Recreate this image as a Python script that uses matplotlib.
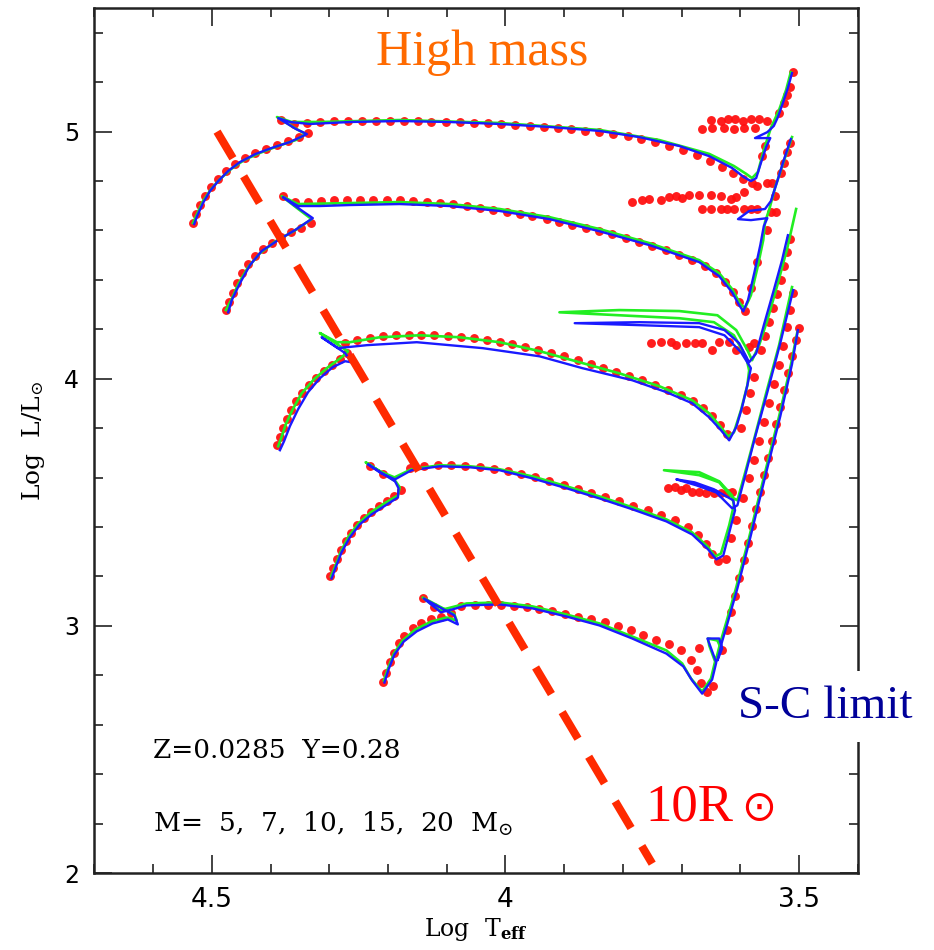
import numpy as np
import matplotlib
matplotlib.use("Agg")
import matplotlib.pyplot as plt
from matplotlib.ticker import MultipleLocator, FixedLocator

plt.rcParams['mathtext.fontset'] = 'dejavuserif'

# ---- red dots (one model set), green and blue lines (two other model sets) ----
# 20 Msun
dots_T_20 = [4.532, 4.527, 4.520, 4.512, 4.501, 4.489, 4.476, 4.461, 4.444, 4.427, 4.408, 4.389, 4.370, 4.352, 4.336,
             4.382, 4.360, 4.338, 4.316, 4.292, 4.268, 4.245, 4.221, 4.197, 4.173, 4.149, 4.126, 4.102, 4.078, 4.054,
             4.030, 4.007, 3.983, 3.959, 3.935, 3.911, 3.888, 3.864, 3.840, 3.816, 3.792, 3.769, 3.745, 3.721, 3.697,
             3.673, 3.651, 3.631, 3.612, 3.595, 3.580,
             3.650, 3.633, 3.621, 3.609, 3.595, 3.582, 3.568, 3.554,
             3.665, 3.648, 3.628, 3.611, 3.594, 3.575,
             3.571, 3.554, 3.546, 3.563, 3.558, 3.534, 3.526, 3.520, 3.515, 3.510]
dots_L_20 = [4.630, 4.666, 4.703, 4.739, 4.776, 4.808, 4.841, 4.869, 4.893, 4.913, 4.930, 4.946, 4.962, 4.978, 4.994,
             5.047, 5.031, 5.035, 5.039, 5.043, 5.043, 5.043, 5.043, 5.043, 5.043, 5.043, 5.039, 5.039, 5.039, 5.035,
             5.035, 5.031, 5.027, 5.023, 5.019, 5.015, 5.011, 5.003, 4.998, 4.990, 4.982, 4.970, 4.958, 4.942, 4.926,
             4.905, 4.881, 4.857, 4.832, 4.808, 4.792,
             5.047, 5.043, 5.051, 5.051, 5.043, 5.051, 5.051, 5.043,
             5.011, 5.015, 5.015, 5.011, 5.015, 5.015,
             4.780, 4.792, 4.792, 4.901, 4.942, 5.075, 5.116, 5.148, 5.181, 5.241]
green_T_20 = [4.532, 4.525, 4.515, 4.501, 4.486, 4.467, 4.445, 4.418, 4.387, 4.357, 4.340, 4.359, 4.389, 4.364,
              4.316, 4.180, 4.010, 3.840, 3.738, 3.653, 3.611, 3.590, 3.580, 3.570, 3.560, 3.548, 3.534, 3.522, 3.514]
green_L_20 = [4.630, 4.667, 4.719, 4.768, 4.808, 4.849, 4.885, 4.914, 4.942, 4.966, 4.990, 5.015, 5.059, 5.039,
              5.039, 5.047, 5.035, 5.007, 4.966, 4.910, 4.861, 4.829, 4.812, 4.837, 4.926, 5.015, 5.088, 5.169, 5.241]
blue_T_20 = [4.530, 4.525, 4.515, 4.503, 4.489, 4.472, 4.452, 4.426, 4.398, 4.367, 4.338, 4.357, 4.387, 4.367,
             4.333, 4.265, 4.180, 4.095, 4.010, 3.925, 3.840, 3.772, 3.704, 3.653, 3.614, 3.594, 3.582, 3.573,
             3.565, 3.556, 3.549, 3.575, 3.554, 3.543, 3.536, 3.527, 3.519, 3.512]
blue_L_20 = [4.626, 4.658, 4.711, 4.760, 4.800, 4.841, 4.877, 4.909, 4.934, 4.958, 4.990, 5.011, 5.055, 5.039,
             5.031, 5.039, 5.043, 5.039, 5.031, 5.019, 5.003, 4.978, 4.942, 4.901, 4.853, 4.816, 4.800, 4.812,
             4.873, 4.938, 4.974, 4.974, 4.998, 5.023, 5.059, 5.120, 5.177, 5.237]

# 15 Msun
dots_T_15 = [4.476, 4.471, 4.464, 4.457, 4.449, 4.438, 4.427, 4.413, 4.398, 4.382, 4.365, 4.348, 4.331,
             4.379, 4.359, 4.336, 4.314, 4.292, 4.270, 4.248, 4.226, 4.202, 4.180, 4.158, 4.134, 4.112, 4.090,
             4.066, 4.044, 4.022, 3.998, 3.976, 3.954, 3.930, 3.908, 3.886, 3.862, 3.840, 3.818, 3.794, 3.772,
             3.750, 3.726, 3.704, 3.682, 3.660, 3.641, 3.626, 3.612, 3.602, 3.592,
             3.582, 3.571, 3.554, 3.548, 3.541, 3.531, 3.526, 3.520, 3.515,
             3.784, 3.767, 3.755, 3.735, 3.721, 3.709, 3.699, 3.687, 3.670, 3.650, 3.633, 3.616, 3.607, 3.594,
             3.665, 3.650, 3.633, 3.623, 3.611, 3.594, 3.582, 3.572, 3.540]
dots_L_15 = [4.278, 4.310, 4.346, 4.387, 4.427, 4.464, 4.496, 4.525, 4.549, 4.573, 4.593, 4.610, 4.630,
             4.739, 4.715, 4.715, 4.719, 4.723, 4.723, 4.723, 4.723, 4.723, 4.723, 4.719, 4.715, 4.711, 4.707,
             4.699, 4.691, 4.683, 4.674, 4.666, 4.658, 4.646, 4.634, 4.622, 4.610, 4.597, 4.585, 4.569, 4.553,
             4.537, 4.521, 4.500, 4.480, 4.456, 4.427, 4.391, 4.350, 4.310, 4.273,
             4.367, 4.472, 4.602, 4.675, 4.739, 4.832, 4.873, 4.917, 4.954,
             4.715, 4.723, 4.727, 4.723, 4.735, 4.739, 4.731, 4.743, 4.743, 4.743, 4.739, 4.727, 4.735, 4.756,
             4.687, 4.687, 4.687, 4.687, 4.687, 4.687, 4.687, 4.687, 4.675]
green_T_15 = [4.476, 4.467, 4.455, 4.438, 4.418, 4.391, 4.360, 4.330, 4.355, 4.381, 4.353, 4.265, 4.180,
              4.095, 4.010, 3.925, 3.840, 3.755, 3.670, 3.636, 3.614, 3.600, 3.592, 3.582, 3.571, 3.561,
              3.558, 3.551, 3.541, 3.527, 3.512]
green_L_15 = [4.278, 4.318, 4.383, 4.452, 4.508, 4.557, 4.598, 4.646, 4.691, 4.739, 4.707, 4.711, 4.715,
              4.707, 4.687, 4.654, 4.606, 4.549, 4.480, 4.427, 4.363, 4.302, 4.286, 4.338, 4.448, 4.561,
              4.634, 4.683, 4.772, 4.873, 4.978]
blue_T_15 = [4.472, 4.466, 4.452, 4.435, 4.415, 4.387, 4.358, 4.328, 4.353, 4.379, 4.353, 4.316, 4.265,
             4.180, 4.095, 4.010, 3.925, 3.840, 3.755, 3.670, 3.636, 3.614, 3.602, 3.595, 3.587, 3.576,
             3.566, 3.560, 3.554, 3.582, 3.604, 3.585, 3.558, 3.548, 3.537, 3.526, 3.514]
blue_L_15 = [4.269, 4.318, 4.387, 4.460, 4.517, 4.561, 4.602, 4.650, 4.691, 4.735, 4.699, 4.699, 4.703,
             4.707, 4.699, 4.679, 4.646, 4.597, 4.541, 4.472, 4.415, 4.350, 4.298, 4.273, 4.318, 4.431,
             4.541, 4.618, 4.650, 4.642, 4.646, 4.679, 4.687, 4.719, 4.800, 4.885, 4.970]

# 10 Msun
dots_T_10 = [4.389, 4.384, 4.379, 4.372, 4.365, 4.357, 4.347, 4.335, 4.323, 4.309, 4.296, 4.282, 4.270,
             4.273, 4.253, 4.231, 4.209, 4.187, 4.165, 4.143, 4.121, 4.098, 4.076, 4.054, 4.032, 4.010, 3.988,
             3.966, 3.944, 3.922, 3.900, 3.877, 3.855, 3.833, 3.811, 3.789, 3.767, 3.745, 3.723, 3.701, 3.680,
             3.663, 3.648, 3.634, 3.622,
             3.599, 3.590, 3.583, 3.577, 3.565, 3.558, 3.551, 3.544, 3.537, 3.531, 3.525, 3.520, 3.515,
             3.752, 3.735, 3.718, 3.709, 3.692, 3.678, 3.665, 3.648, 3.636, 3.619, 3.607, 3.585, 3.577]
dots_L_10 = [3.731, 3.763, 3.800, 3.836, 3.873, 3.909, 3.941, 3.974, 4.002, 4.031, 4.055, 4.079, 4.104,
             4.144, 4.156, 4.164, 4.172, 4.176, 4.176, 4.176, 4.176, 4.172, 4.168, 4.164, 4.156, 4.148, 4.140,
             4.128, 4.116, 4.103, 4.091, 4.075, 4.059, 4.043, 4.027, 4.010, 3.994, 3.974, 3.953, 3.933, 3.909,
             3.881, 3.848, 3.812, 3.775,
             3.800, 3.873, 3.941, 4.006, 4.116, 4.172, 4.229, 4.286, 4.342, 4.399, 4.456, 4.512, 4.565,
             4.144, 4.148, 4.148, 4.136, 4.144, 4.144, 4.144, 4.116, 4.148, 4.148, 4.116, 4.128, 4.144]
green_T_10 = [4.387, 4.382, 4.374, 4.362, 4.347, 4.326, 4.302, 4.279, 4.268, 4.316, 4.287, 4.265, 4.214,
              4.146, 4.078, 4.010, 3.942, 3.874, 3.806, 3.738, 3.682, 3.653, 3.636, 3.621, 3.611, 3.599,
              3.588, 3.585, 3.590, 3.611, 3.645, 3.704, 3.806, 3.908, 3.806, 3.704, 3.639, 3.607, 3.588,
              3.580, 3.568, 3.554, 3.537, 3.520, 3.505]
green_L_10 = [3.727, 3.759, 3.816, 3.877, 3.941, 3.998, 4.047, 4.087, 4.111, 4.185, 4.148, 4.148, 4.168,
              4.176, 4.168, 4.148, 4.112, 4.067, 4.022, 3.970, 3.913, 3.860, 3.812, 3.767, 3.783, 3.872,
              3.974, 4.034, 4.087, 4.176, 4.229, 4.245, 4.257, 4.269, 4.278, 4.274, 4.257, 4.197, 4.116,
              4.075, 4.136, 4.237, 4.379, 4.529, 4.687]
blue_T_10 = [4.384, 4.377, 4.367, 4.353, 4.336, 4.316, 4.294, 4.273, 4.263, 4.273, 4.313, 4.285, 4.236,
             4.151, 4.039, 3.942, 3.869, 3.784, 3.726, 3.682, 3.653, 3.633, 3.619, 3.607, 3.597, 3.588,
             3.582, 3.599, 3.627, 3.670, 3.772, 3.882, 3.772, 3.670, 3.627, 3.602, 3.585, 3.573, 3.560,
             3.543, 3.529, 3.519]
blue_L_10 = [3.711, 3.747, 3.808, 3.877, 3.946, 4.002, 4.047, 4.071, 4.067, 4.104, 4.168, 4.124, 4.136,
             4.148, 4.124, 4.091, 4.043, 3.994, 3.946, 3.901, 3.844, 3.792, 3.751, 3.804, 3.885, 3.974,
             4.043, 4.108, 4.176, 4.209, 4.217, 4.225, 4.229, 4.225, 4.197, 4.144, 4.067, 4.103, 4.217,
             4.359, 4.480, 4.581]

# 7 Msun
dots_T_7 = [4.299, 4.294, 4.287, 4.280, 4.272, 4.263, 4.253, 4.241, 4.229, 4.216, 4.202, 4.189, 4.177,
            4.231, 4.209, 4.163, 4.139, 4.115, 4.092, 4.068, 4.044, 4.020, 3.996, 3.973, 3.949, 3.925, 3.901,
            3.877, 3.854, 3.830, 3.806, 3.782, 3.758, 3.735, 3.711, 3.689, 3.672, 3.658, 3.648, 3.638, 3.624,
            3.616, 3.607, 3.595, 3.585, 3.577, 3.568, 3.560, 3.551, 3.543, 3.534, 3.527, 3.520, 3.515, 3.510,
            3.724, 3.712, 3.701, 3.692, 3.682, 3.670, 3.658, 3.645, 3.633, 3.622, 3.614]
dots_L_7 = [3.200, 3.233, 3.269, 3.306, 3.342, 3.374, 3.407, 3.435, 3.460, 3.484, 3.504, 3.524, 3.549,
            3.646, 3.613, 3.638, 3.646, 3.650, 3.650, 3.646, 3.642, 3.634, 3.626, 3.613, 3.601, 3.585, 3.569,
            3.553, 3.536, 3.520, 3.504, 3.484, 3.468, 3.447, 3.427, 3.399, 3.366, 3.330, 3.293, 3.261, 3.269,
            3.354, 3.427, 3.516, 3.597, 3.670, 3.747, 3.824, 3.901, 3.978, 4.055, 4.132, 4.209, 4.278, 4.346,
            3.557, 3.561, 3.549, 3.557, 3.540, 3.540, 3.536, 3.536, 3.536, 3.536, 3.540]
green_T_7 = [4.297, 4.290, 4.280, 4.267, 4.250, 4.229, 4.206, 4.183, 4.180, 4.187, 4.238, 4.214, 4.189,
             4.160, 4.112, 4.061, 4.010, 3.954, 3.896, 3.840, 3.784, 3.726, 3.682, 3.656, 3.643, 3.633,
             3.619, 3.611, 3.614, 3.636, 3.670, 3.730, 3.670, 3.636, 3.614, 3.605, 3.593, 3.576, 3.556,
             3.534, 3.512]
green_L_7 = [3.200, 3.241, 3.302, 3.362, 3.415, 3.460, 3.496, 3.528, 3.561, 3.585, 3.662, 3.626, 3.601,
             3.634, 3.650, 3.646, 3.634, 3.605, 3.565, 3.524, 3.480, 3.431, 3.378, 3.322, 3.281, 3.293,
             3.407, 3.488, 3.528, 3.585, 3.622, 3.630, 3.610, 3.581, 3.520, 3.508, 3.610, 3.760, 3.942,
             4.136, 4.371]
blue_T_7 = [4.296, 4.289, 4.279, 4.265, 4.248, 4.228, 4.204, 4.183, 4.182, 4.188, 4.234, 4.212, 4.188,
            4.160, 4.112, 4.061, 4.010, 3.954, 3.896, 3.840, 3.784, 3.726, 3.682, 3.655, 3.641, 3.629,
            3.617, 3.609, 3.612, 3.645, 3.678, 3.709, 3.675, 3.641, 3.614, 3.605, 3.593, 3.575, 3.554,
            3.532, 3.510]
blue_L_7 = [3.192, 3.237, 3.298, 3.358, 3.411, 3.451, 3.488, 3.520, 3.557, 3.585, 3.654, 3.618, 3.593,
            3.630, 3.646, 3.642, 3.630, 3.597, 3.557, 3.516, 3.472, 3.423, 3.370, 3.310, 3.269, 3.285,
            3.395, 3.468, 3.508, 3.553, 3.581, 3.593, 3.569, 3.540, 3.476, 3.488, 3.597, 3.763, 3.946,
            4.144, 4.359]

# 5 Msun
dots_T_5 = [4.209, 4.204, 4.197, 4.190, 4.182, 4.172, 4.158, 4.143, 4.126, 4.109, 4.092, 4.141, 4.121,
            4.075, 4.052, 4.030, 4.008, 3.986, 3.964, 3.942, 3.920, 3.898, 3.876, 3.854, 3.831, 3.809, 3.787,
            3.765, 3.743, 3.721, 3.701, 3.684, 3.673, 3.667, 3.656, 3.646, 3.670, 3.631,
            3.622, 3.616, 3.609, 3.602, 3.594, 3.587, 3.580, 3.573, 3.566, 3.560, 3.553, 3.546, 3.539, 3.532,
            3.526, 3.519, 3.512, 3.505, 3.500]
dots_L_5 = [2.775, 2.811, 2.852, 2.892, 2.929, 2.961, 2.990, 3.010, 3.026, 3.038, 3.054, 3.111, 3.075,
            3.079, 3.083, 3.083, 3.083, 3.079, 3.075, 3.067, 3.059, 3.050, 3.038, 3.026, 3.014, 2.998, 2.982,
            2.965, 2.945, 2.925, 2.901, 2.864, 2.820, 2.767, 2.731, 2.755, 2.909, 2.901,
            2.982, 3.055, 3.123, 3.192, 3.265, 3.334, 3.403, 3.472, 3.540, 3.609, 3.678, 3.747, 3.816, 3.885,
            3.954, 4.022, 4.091, 4.156, 4.205]
green_T_5 = [4.207, 4.200, 4.190, 4.175, 4.153, 4.126, 4.100, 4.083, 4.087, 4.141, 4.112, 4.092, 4.066,
             4.010, 3.954, 3.896, 3.840, 3.784, 3.726, 3.699, 3.684, 3.665, 3.650, 3.643, 3.653, 3.655,
             3.639, 3.633, 3.641, 3.633, 3.624, 3.607, 3.585, 3.560, 3.534, 3.514, 3.503]
green_L_5 = [2.779, 2.828, 2.888, 2.941, 2.986, 3.018, 3.034, 3.022, 3.047, 3.115, 3.063, 3.075, 3.091,
             3.095, 3.079, 3.046, 3.010, 2.957, 2.901, 2.848, 2.787, 2.734, 2.787, 2.856, 2.921, 2.949,
             2.941, 2.909, 2.868, 2.941, 3.014, 3.156, 3.358, 3.601, 3.848, 4.055, 4.189]
blue_T_5 = [4.206, 4.199, 4.189, 4.173, 4.151, 4.124, 4.098, 4.081, 4.087, 4.139, 4.110, 4.090, 4.066,
            4.010, 3.954, 3.896, 3.840, 3.784, 3.726, 3.697, 3.682, 3.665, 3.648, 3.641, 3.651, 3.656,
            3.636, 3.631, 3.639, 3.631, 3.622, 3.605, 3.583, 3.558, 3.532, 3.512, 3.502]
blue_L_5 = [2.771, 2.824, 2.884, 2.937, 2.978, 3.010, 3.026, 3.006, 3.043, 3.111, 3.055, 3.067, 3.083,
            3.087, 3.071, 3.038, 3.002, 2.949, 2.888, 2.836, 2.779, 2.726, 2.783, 2.852, 2.917, 2.949,
            2.949, 2.909, 2.860, 2.937, 3.010, 3.152, 3.358, 3.601, 3.848, 4.059, 4.197]

# 10 Rsun radius line
r10_T = [4.491, 3.750]
r10_L = [5.000, 2.038]

dots = [(dots_T_20, dots_L_20), (dots_T_15, dots_L_15), (dots_T_10, dots_L_10),
        (dots_T_7, dots_L_7), (dots_T_5, dots_L_5)]
greens = [(green_T_20, green_L_20), (green_T_15, green_L_15), (green_T_10, green_L_10),
          (green_T_7, green_L_7), (green_T_5, green_L_5)]
blues = [(blue_T_20, blue_L_20), (blue_T_15, blue_L_15), (blue_T_10, blue_L_10),
         (blue_T_7, blue_L_7), (blue_T_5, blue_L_5)]

fig = plt.figure(figsize=(9.34, 9.5), dpi=100)
ax = fig.add_axes([0.101, 0.081, 0.8174, 0.9105])

for T, L in dots:
    ax.plot(T, L, 'o', color='#ff1010', markersize=6.4, markeredgewidth=0, alpha=0.95, zorder=2)
for T, L in greens:
    ax.plot(T, L, '-', color='#22ee22', lw=1.9, zorder=3, solid_joinstyle='round')
for T, L in blues:
    ax.plot(T, L, '-', color='#1a1aff', lw=1.7, zorder=4, solid_joinstyle='round')

lw_dash = 5.8
ax.plot(r10_T, r10_L, color='#ff2a00', lw=lw_dash, dashes=(22.3 / lw_dash, 15.1 / lw_dash),
        dash_capstyle='butt', zorder=5)

ax.set_xlim(4.7, 3.4)
ax.set_ylim(2.0, 5.5)
ax.xaxis.set_major_locator(FixedLocator([4.5, 4.0, 3.5]))
ax.xaxis.set_minor_locator(MultipleLocator(0.1))
ax.yaxis.set_major_locator(FixedLocator([2, 3, 4, 5]))
ax.yaxis.set_minor_locator(MultipleLocator(0.2))
ax.set_xticklabels(['4.5', '4', '3.5'], fontsize=19, family='DejaVu Sans')
ax.set_yticklabels(['2', '3', '4', '5'], fontsize=17, family='DejaVu Sans')
ax.tick_params(which='both', direction='in', top=True, right=True, width=1.2, color='#222222')
ax.tick_params(which='major', length=13)
ax.tick_params(which='minor', length=6.5)
ax.tick_params(axis='x', pad=10)
ax.tick_params(axis='y', pad=11)
for sp in ax.spines.values():
    sp.set_linewidth(1.8)
    sp.set_color('#222222')

ax.set_xlabel(r'Log  T$_{\mathbf{eff}}$', fontsize=17, family='DejaVu Serif', labelpad=2)
ax.set_ylabel(r'Log  L/L$_{\odot}$', fontsize=18, family='DejaVu Serif', labelpad=12)

ax.text(0.077, 0.1335, 'Z=0.0285  Y=0.28', transform=ax.transAxes, fontsize=19,
        family='DejaVu Serif', va='baseline')
ax.text(0.077, 0.0474, r'M=  5,  7,  10,  15,  20  M$_{\odot}$', transform=ax.transAxes,
        fontsize=19, family='DejaVu Serif', va='baseline')

fig.text(0.516, 0.9316, 'High mass', color='#ff6a00', fontsize=36, family='Liberation Serif',
         ha='center', va='baseline')
fig.text(0.790, 0.2442, 'S-C limit', color='#000099', fontsize=34, family='Liberation Serif',
         ha='left', va='baseline',
         bbox=dict(boxstyle='square,pad=0.3', facecolor='white', edgecolor='none'))
fig.text(0.6906, 0.1368, '10R', color='#ff0000', fontsize=38, family='Liberation Serif',
         ha='left', va='baseline')
fig.text(0.812, 0.1490, '\u2299', color='#ff0000', fontsize=30, family='DejaVu Sans',
         ha='center', va='center')

fig.savefig('out.png', dpi=100)
